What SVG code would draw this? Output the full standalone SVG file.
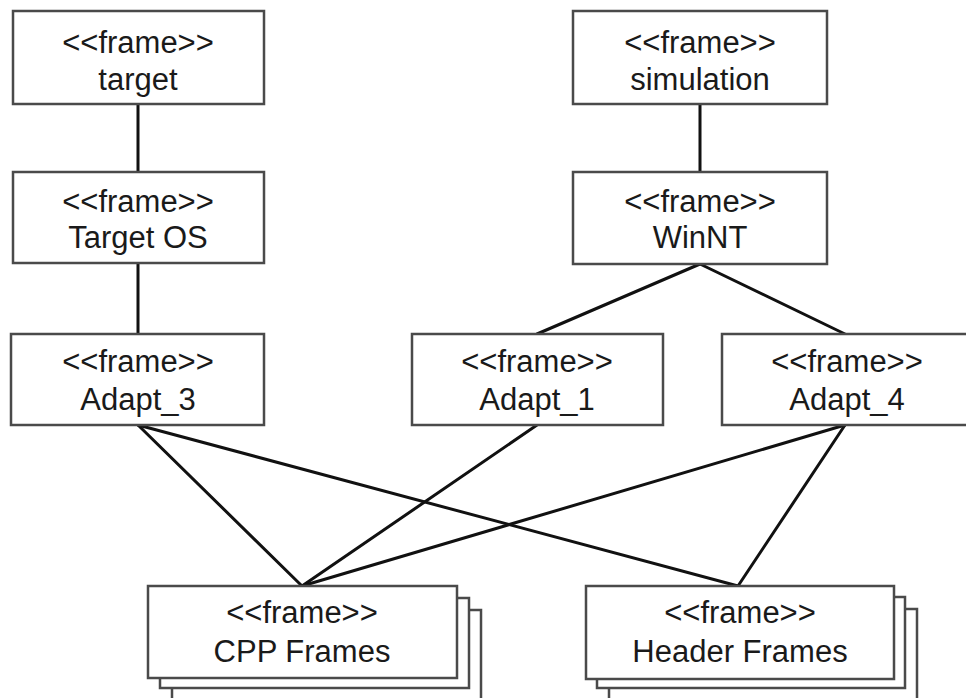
<svg xmlns="http://www.w3.org/2000/svg" width="966" height="698" viewBox="0 0 966 698">
<style>
.box{fill:#fff;stroke:#4a4a4a;stroke-width:2.5}
.t{font-family:"Liberation Sans",Arial,sans-serif;font-size:31px;fill:#1a1a1a;text-anchor:middle}
.c{stroke:#111;stroke-width:3;fill:none;stroke-linecap:round}
</style>
<rect width="966" height="698" fill="#fff"/>
<g id="connectors">
<line class="c" x1="138" y1="104" x2="138" y2="172"/>
<line class="c" x1="138" y1="263" x2="138" y2="334"/>
<line class="c" x1="700" y1="104" x2="700" y2="172"/>
<line class="c" x1="700" y1="264" x2="537" y2="334"/>
<line class="c" x1="700" y1="264" x2="845" y2="334"/>
<line class="c" x1="138" y1="425" x2="302" y2="586"/>
<line class="c" x1="138" y1="425" x2="738" y2="586"/>
<line class="c" x1="537" y1="425" x2="302" y2="586"/>
<line class="c" x1="845" y1="425" x2="302" y2="586"/>
<line class="c" x1="845" y1="425" x2="738" y2="586"/>
</g>
<g id="target"><rect class="box" x="13" y="11" width="251" height="93"/><text class="t" x="138" y="53">&lt;&lt;frame&gt;&gt;</text><text class="t" x="138" y="90">target</text></g>
<g id="targetos"><rect class="box" x="13" y="172" width="251" height="91"/><text class="t" x="138" y="212">&lt;&lt;frame&gt;&gt;</text><text class="t" x="138" y="248">Target OS</text></g>
<g id="adapt3"><rect class="box" x="11" y="334" width="253" height="91"/><text class="t" x="138" y="372">&lt;&lt;frame&gt;&gt;</text><text class="t" x="138" y="410">Adapt_3</text></g>
<g id="simulation"><rect class="box" x="573" y="11" width="254" height="93"/><text class="t" x="700" y="53">&lt;&lt;frame&gt;&gt;</text><text class="t" x="700" y="90">simulation</text></g>
<g id="winnt"><rect class="box" x="573" y="172" width="254" height="92"/><text class="t" x="700" y="212">&lt;&lt;frame&gt;&gt;</text><text class="t" x="700" y="248">WinNT</text></g>
<g id="adapt1"><rect class="box" x="412" y="334" width="251" height="91"/><text class="t" x="537" y="372">&lt;&lt;frame&gt;&gt;</text><text class="t" x="537" y="410">Adapt_1</text></g>
<g id="adapt4"><rect class="box" x="722" y="334" width="260" height="91"/><text class="t" x="847" y="372">&lt;&lt;frame&gt;&gt;</text><text class="t" x="847" y="410">Adapt_4</text></g>
<g id="cppframes">
<rect class="box" x="172" y="610" width="309" height="100"/>
<rect class="box" x="160" y="598" width="309" height="90"/>
<rect class="box" x="148" y="586" width="309" height="92"/>
<text class="t" x="302" y="623">&lt;&lt;frame&gt;&gt;</text><text class="t" x="302" y="662">CPP Frames</text></g>
<g id="headerframes">
<rect class="box" x="609" y="609" width="308" height="100"/>
<rect class="box" x="597" y="597" width="308" height="91"/>
<rect class="box" x="586" y="586" width="308" height="93"/>
<text class="t" x="740" y="623">&lt;&lt;frame&gt;&gt;</text><text class="t" x="740" y="662">Header Frames</text></g>
</svg>
